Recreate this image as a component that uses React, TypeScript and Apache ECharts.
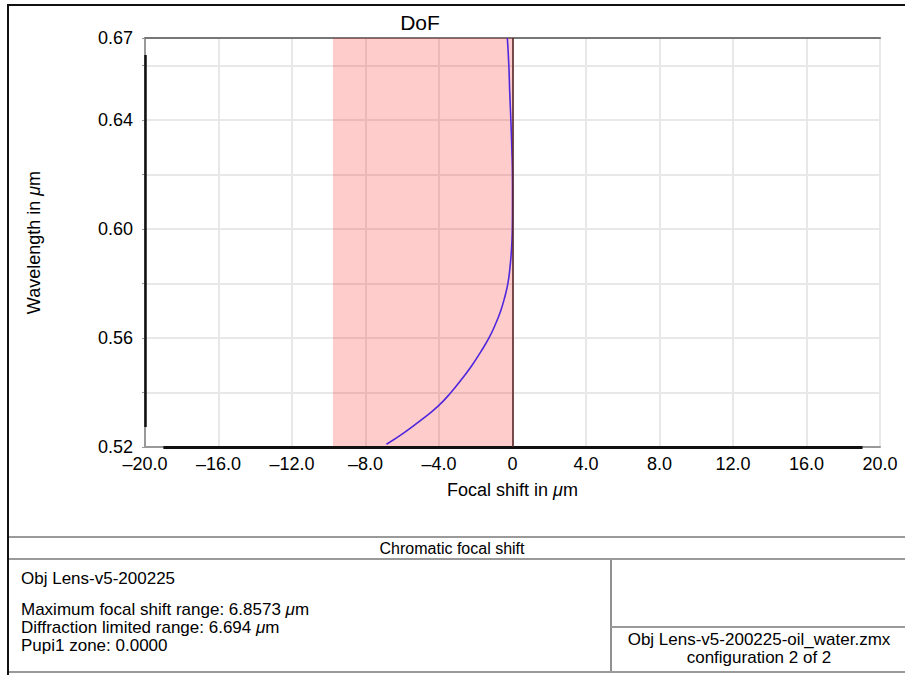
import React, { useEffect, useRef } from 'react';
import * as echarts from 'echarts';

// wavelength (µm) and focal shift (µm)
const wavelengths = [0.521, 0.525, 0.53, 0.535, 0.54, 0.545, 0.55, 0.555, 0.56, 0.565, 0.57, 0.575, 0.58, 0.585, 0.59, 0.595, 0.6, 0.61, 0.62, 0.63, 0.64, 0.65, 0.66, 0.67];
const focalShifts = [-6.86, -5.95, -4.95, -4.05, -3.35, -2.75, -2.2, -1.72, -1.28, -0.93, -0.64, -0.42, -0.25, -0.15, -0.08, -0.035, -0.01, 0.0, -0.005, -0.04, -0.09, -0.15, -0.2, -0.28];

const dofRange = [-9.77, 0];
const yLabelValues = [0.52, 0.56, 0.6, 0.64, 0.67];
const xRange = [-20, 20];
const yRange = [0.52, 0.67];

const titleText = 'DoF';
const footerTitle = 'Chromatic focal shift';
const leftInfo = [
  'Obj Lens-v5-200225',
  'Maximum focal shift range: 6.8573 {mu|μ}m',
  'Diffraction limited range: 6.694 {mu|μ}m',
  'Pupi1 zone: 0.0000',
];
const rightInfo = ['Obj Lens-v5-200225-oil_water.zmx', 'configuration 2 of 2'];

const FONT = '"Liberation Sans", Arial, sans-serif';

export default function App() {
  const ref = useRef<HTMLDivElement>(null);
  useEffect(() => {
    if (!ref.current) return;
    const chart = echarts.init(ref.current, undefined, { renderer: 'svg' });
    const muRich = (size: number) => ({
      mu: { fontStyle: 'italic', fontSize: size, fontFamily: FONT, color: '#000' },
    });
    const infoText = (text: string, x: number, y: number, align: string) => ({
      type: 'text',
      x,
      y,
      silent: true,
      style: {
        text,
        fill: '#000',
        fontSize: 17,
        fontFamily: FONT,
        align,
        verticalAlign: 'middle',
        rich: muRich(17),
      },
    });
    const hLine = (x1: number, x2: number, y: number, color: string, w: number) => ({
      type: 'line',
      silent: true,
      shape: { x1, y1: y, x2, y2: y },
      style: { stroke: color, lineWidth: w },
    });
    const vLine = (x: number, y1: number, y2: number, color: string, w: number) => ({
      type: 'line',
      silent: true,
      shape: { x1: x, y1, x2: x, y2 },
      style: { stroke: color, lineWidth: w },
    });

    const data = wavelengths.map((w, i) => [focalShifts[i], w]);

    chart.setOption({
      animation: false,
      backgroundColor: '#fff',
      textStyle: { fontFamily: FONT },
      grid: { left: 145, top: 38, right: 25, bottom: 228, containLabel: false },
      xAxis: [
        {
          type: 'value',
          min: xRange[0],
          max: xRange[1],
          interval: 4,
          name: 'Focal shift in {mu|μ}m',
          nameLocation: 'middle',
          nameGap: 34,
          nameTextStyle: { fontSize: 18, color: '#000', fontFamily: FONT, rich: muRich(18) },
          axisLine: { show: true, lineStyle: { color: '#999', width: 2 } },
          axisTick: { show: false },
          axisLabel: {
            fontSize: 18,
            color: '#000',
            margin: 8,
            fontFamily: FONT,
            formatter: (v: number) => (Math.abs(v) < 1e-9 ? '0' : v < 0 ? '\u2013' + Math.abs(v).toFixed(1) : v.toFixed(1)),
          },
          splitLine: { show: true, lineStyle: { color: '#e8e8e8', width: 2 } },
        },
        {
          type: 'value',
          position: 'top',
          min: xRange[0],
          max: xRange[1],
          interval: 4,
          axisLine: { show: true, onZero: false, lineStyle: { color: '#777', width: 2 } },
          axisTick: { show: false },
          axisLabel: { show: false },
          splitLine: { show: false },
        },
      ],
      yAxis: {
        type: 'value',
        min: yRange[0],
        max: yRange[1],
        interval: 0.02,
        name: 'Wavelength in {mu|μ}m',
        nameLocation: 'middle',
        nameGap: 102,
        nameTextStyle: { fontSize: 18, color: '#000', fontFamily: FONT, rich: muRich(18) },
        axisLine: { show: true, onZero: false, lineStyle: { color: '#999', width: 2 } },
        axisTick: { show: true, length: 3, lineStyle: { color: '#999' } },
        axisLabel: {
          fontSize: 18,
          color: '#000',
          margin: 12,
          fontFamily: FONT,
          formatter: (v: number) => {
            const r = Math.round(v * 100) / 100;
            return yLabelValues.some((t) => Math.abs(t - r) < 1e-6) ? r.toFixed(2) : '';
          },
        },
        splitLine: { show: true, lineStyle: { color: '#e8e8e8', width: 2 } },
      },
      series: [
        {
          type: 'line',
          data: [],
          silent: true,
          markArea: {
            silent: true,
            itemStyle: { color: 'rgba(255,0,0,0.2)' },
            data: [[{ xAxis: dofRange[0] }, { xAxis: dofRange[1] }]],
          },
        },
        {
          type: 'line',
          data,
          showSymbol: false,
          symbol: 'none',
          smooth: true,
          lineStyle: { color: '#4f27dc', width: 1.6 },
          silent: true,
          z: 3,
        },
        {
          type: 'line',
          data: [],
          silent: true,
          markLine: {
            silent: true,
            symbol: ['none', 'none'],
            label: { show: false },
            data: [
              [
                { coord: [-19, yRange[0]], lineStyle: { color: '#111', width: 3, type: 'solid' } },
                { coord: [19.05, yRange[0]] },
              ],
              [
                { coord: [xRange[0], 0.5273], lineStyle: { color: '#111', width: 2.5, type: 'solid' } },
                { coord: [xRange[0], 0.6638] },
              ],
              [
                { coord: [0, yRange[0]], lineStyle: { color: '#5a2525', width: 1.6, type: 'solid' } },
                { coord: [0, yRange[1]] },
              ],
            ],
          },
          z: 2,
        },
      ],
      graphic: [
        {
          type: 'text',
          x: 420,
          y: 22,
          silent: true,
          style: { text: titleText, fill: '#000', fontSize: 21, fontFamily: FONT, align: 'center', verticalAlign: 'middle' },
        },
        hLine(8, 905, 5, '#111', 2),
        vLine(8, 4, 675, '#111', 2),
        hLine(9, 905, 537, '#9a9a9a', 2),
        hLine(9, 905, 559, '#9a9a9a', 2),
        hLine(9, 905, 672, '#9a9a9a', 2),
        vLine(611, 560, 671, '#222', 1),
        hLine(611, 905, 627, '#9a9a9a', 2),
        {
          type: 'text',
          x: 452,
          y: 548,
          silent: true,
          style: { text: footerTitle, fill: '#000', fontSize: 16, fontFamily: FONT, align: 'center', verticalAlign: 'middle' },
        },
        infoText(leftInfo[0], 21, 578, 'left'),
        infoText(leftInfo[1], 21, 609, 'left'),
        infoText(leftInfo[2], 21, 627, 'left'),
        infoText(leftInfo[3], 21, 645, 'left'),
        infoText(rightInfo[0], 759, 639, 'center'),
        infoText(rightInfo[1], 759, 657, 'center'),
      ],
    });
    return () => chart.dispose();
  }, []);
  return <div ref={ref} style={{ position: 'fixed', left: 0, top: 0, width: 905, height: 675 }} />;
}
